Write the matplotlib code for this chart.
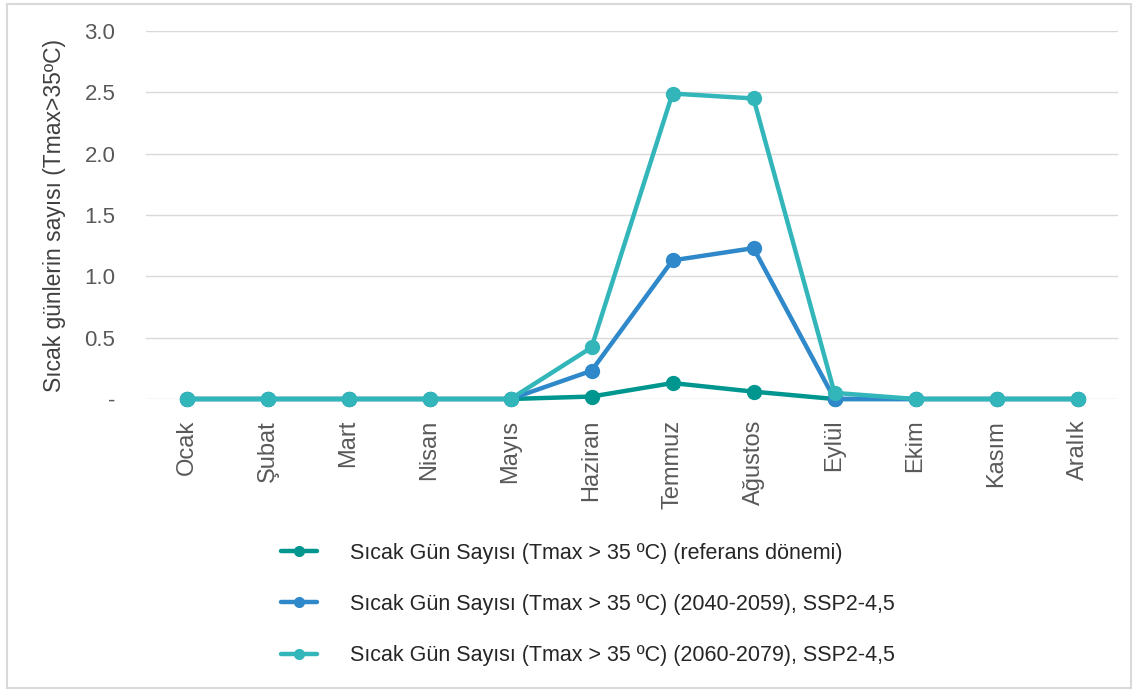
import numpy as np
import matplotlib.pyplot as plt
from matplotlib.patches import Rectangle

plt.rcParams['font.family'] = ['Liberation Sans', 'DejaVu Sans']

months = ['Ocak', 'Şubat', 'Mart', 'Nisan', 'Mayıs', 'Haziran',
          'Temmuz', 'Ağustos', 'Eylül', 'Ekim', 'Kasım', 'Aralık']
ref_period = [0, 0, 0, 0, 0, 0.02, 0.13, 0.06, 0, 0, 0, 0]
ssp_2040 = [0, 0, 0, 0, 0, 0.23, 1.13, 1.23, 0.0, 0, 0, 0]
ssp_2060 = [0, 0, 0, 0, 0, 0.42, 2.49, 2.45, 0.05, 0, 0, 0]
labels = ['Sıcak Gün Sayısı (Tmax > 35 ºC) (referans dönemi)',
          'Sıcak Gün Sayısı (Tmax > 35 ºC) (2040-2059), SSP2-4,5',
          'Sıcak Gün Sayısı (Tmax > 35 ºC) (2060-2079), SSP2-4,5']
colors = ['#009690', '#2E88CA', '#33B6BA']
yticks = [0, 0.5, 1.0, 1.5, 2.0, 2.5, 3.0]
ytick_labels = ['-', '0.5', '1.0', '1.5', '2.0', '2.5', '3.0']

W, H = 1139, 690
fig = plt.figure(figsize=(W / 100, H / 100), dpi=100)
ax = fig.add_axes([146 / W, 1 - 399 / H, (1118 - 146) / W, (399 - 31) / H])

x = np.arange(len(months))
for series, lab, c in zip([ref_period, ssp_2040, ssp_2060], labels, colors):
    ax.plot(x, series, color=c, lw=3.2, marker='o', ms=10, label=lab,
            clip_on=False, solid_capstyle='round')

ax.set_xlim(-0.5, len(months) - 0.5)
ax.set_ylim(0, 3.0)
ax.set_yticks(yticks)
ax.set_yticklabels(ytick_labels)
ax.set_xticks(x)
ax.set_xticklabels(months, rotation=90, va='top')
ax.tick_params(axis='y', length=0, labelsize=16, labelcolor='#595959', pad=22)
ax.tick_params(axis='x', length=0, labelsize=17, labelcolor='#595959', pad=15)
ax.grid(axis='y', color='#d9d9d9', lw=1)
ax.set_axisbelow(True)
for s in ax.spines.values():
    s.set_visible(False)
ax.set_ylabel('Sıcak günlerin sayısı (Tmax>35ºC)', fontsize=16.5, color='#404040', labelpad=13)

fig.legend(loc='upper left', bbox_to_anchor=(270 / W, 1 - 532 / H), frameon=False,
           fontsize=15.5, handlelength=1.7, handletextpad=1.5, labelspacing=1.4,
           borderpad=0, markerscale=0.7, labelcolor='#262626')

fig.patches.append(Rectangle((7 / W, 2 / H), (1131 - 7) / W, (686 - 2) / H,
                             transform=fig.transFigure, fill=False,
                             edgecolor='#d9d9d9', lw=1.5))

fig.savefig('out.png', dpi=100)
